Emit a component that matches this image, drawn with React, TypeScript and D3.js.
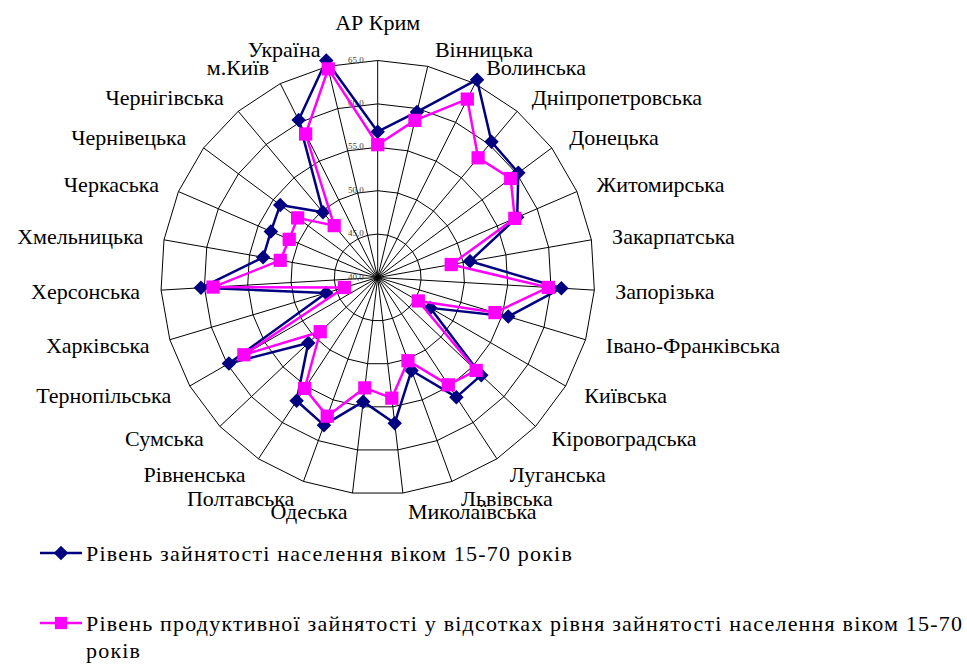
import React, { useRef, useEffect } from 'react';
import * as d3 from 'd3';

const regions = [
  'АР Крим', 'Вінницька', 'Волинська', 'Дніпропетровська', 'Донецька',
  'Житомирська', 'Закарпатська', 'Запорізька', 'Івано-Франківська', 'Київська',
  'Кіровоградська', 'Луганська', 'Львівська', 'Миколаївська', 'Одеська',
  'Полтавська', 'Рівненська', 'Сумська', 'Тернопільська', 'Харківська',
  'Херсонська', 'Хмельницька', 'Черкаська', 'Чернівецька', 'Чернігівська',
  'м.Київ', 'Україна'
];

// рівень зайнятості населення віком 15-70 років
const employment = [
  56.8, 59.6, 65.5, 60.4, 60.2, 57.5, 50.8, 61.2, 55.7, 47.0,
  56.4, 56.5, 51.4, 56.9, 54.4, 58.1, 57.0, 51.0, 59.8, 46.2,
  60.4, 53.4, 53.4, 54.0, 49.8, 60.3, 65.7
];

// рівень продуктивної зайнятості
const productive = [
  55.3, 58.6, 63.0, 58.0, 59.1, 57.2, 48.6, 59.7, 54.1, 45.4,
  55.6, 54.8, 50.2, 54.0, 52.8, 57.0, 55.3, 49.1, 57.8, 44.0,
  59.0, 51.4, 51.1, 51.5, 47.8, 58.5, 64.7
];

const ticks = [40, 45, 50, 55, 60, 65];
const tickLabels = ['40,0', '45,0', '50,0', '55,0', '60,0', '65,0'];

const seriesNames = [
  'Рівень зайнятості населення віком 15-70 років',
  'Рівень продуктивної зайнятості у відсотках рівня зайнятості населення віком 15-70',
  'років'
];

const FONT = 'Liberation Serif, Times New Roman, DejaVu Serif, serif';

function drawRadar(ref) {
  const cx = 377.7, cy = 277.5, R = 217;
  const n = regions.length;

  d3.select(ref.current).selectAll('*').remove();

  const svg = d3.select(ref.current)
    .append('svg')
    .attr('width', 967)
    .attr('height', 664)
    .attr('font-family', FONT)
    .style('position', 'absolute')
    .style('left', 0)
    .style('top', 0)
    .style('background', '#fff');

  const g = svg.append('g').attr('transform', `translate(${cx},${cy})`);

  const angle = d3.scaleLinear().domain([0, n]).range([0, 2 * Math.PI]);
  const r = d3.scaleLinear().domain([40, 65]).range([0, R]);

  // сітка - многокутники
  const ring = d3.lineRadial()
    .angle((d, i) => angle(i))
    .radius(d => r(d))
    .curve(d3.curveLinearClosed);

  g.selectAll('path.ring')
    .data(ticks.slice(1))
    .join('path')
    .attr('class', 'ring')
    .attr('d', t => ring(regions.map(() => t)))
    .attr('fill', 'none')
    .attr('stroke', '#000')
    .attr('stroke-width', 1);

  // осі
  g.selectAll('line.spoke')
    .data(regions)
    .join('line')
    .attr('class', 'spoke')
    .attr('x1', 0)
    .attr('y1', 0)
    .attr('x2', (d, i) => d3.pointRadial(angle(i), r(65))[0])
    .attr('y2', (d, i) => d3.pointRadial(angle(i), r(65))[1])
    .attr('stroke', '#000')
    .attr('stroke-width', 1);

  // підписи шкали
  g.selectAll('text.tick')
    .data(ticks)
    .join('text')
    .attr('class', 'tick')
    .attr('x', -14)
    .attr('y', t => -r(t) - 1)
    .attr('dy', '0.35em')
    .attr('text-anchor', 'end')
    .attr('font-size', 9)
    .attr('fill', '#444')
    .text((t, i) => tickLabels[i]);

  // назви регіонів
  g.selectAll('text.cat')
    .data(regions)
    .join('text')
    .attr('class', 'cat')
    .each(function (d, i) {
      const a = angle(i);
      const s = Math.sin(a);
      const [x, y] = d3.pointRadial(a, 235);
      const t = d3.select(this);
      if (Math.abs(s) < 0.05) {
        t.attr('x', x).attr('y', y - 13).attr('text-anchor', 'middle');
      } else {
        t.attr('x', x + (s > 0 ? 3 : -3))
          .attr('y', y)
          .attr('dy', '0.35em')
          .attr('text-anchor', s > 0 ? 'start' : 'end');
      }
    })
    .attr('font-size', 22)
    .attr('fill', '#000')
    .text(d => d);

  const line = d3.lineRadial()
    .angle((d, i) => angle(i))
    .radius(d => r(d))
    .curve(d3.curveLinearClosed);

  const series = [
    { values: employment, color: '#000080', size: 105, rotate: 45 },
    { values: productive, color: '#FF00FF', size: 175, rotate: 0 }
  ];

  series.forEach(s => {
    g.append('path')
      .attr('d', line(s.values))
      .attr('fill', 'none')
      .attr('stroke', s.color)
      .attr('stroke-width', 2.5)
      .attr('stroke-linejoin', 'round');

    g.selectAll(null)
      .data(s.values)
      .join('path')
      .attr('d', d3.symbol().type(d3.symbolSquare).size(s.size))
      .attr('transform', (d, i) => {
        const [x, y] = d3.pointRadial(angle(i), r(d));
        return `translate(${x},${y}) rotate(${s.rotate})`;
      })
      .attr('fill', s.color);
  });

  // легенда
  const legend = svg.append('g');
  const items = [
    { color: '#000080', size: 105, rotate: 45, y: 553, lines: [seriesNames[0]] },
    { color: '#FF00FF', size: 150, rotate: 0, y: 623, lines: [seriesNames[1], seriesNames[2]] }
  ];

  items.forEach(it => {
    legend.append('line')
      .attr('x1', 40).attr('x2', 82)
      .attr('y1', it.y).attr('y2', it.y)
      .attr('stroke', it.color)
      .attr('stroke-width', 2.5);
    legend.append('path')
      .attr('d', d3.symbol().type(d3.symbolSquare).size(it.size))
      .attr('transform', `translate(61,${it.y}) rotate(${it.rotate})`)
      .attr('fill', it.color);
    it.lines.forEach((txt, k) => {
      legend.append('text')
        .attr('x', 86)
        .attr('y', it.y + k * 27)
        .attr('dy', '0.35em')
        .attr('font-size', 22)
        .attr('letter-spacing', 1.2)
        .attr('fill', '#000')
        .text(txt);
    });
  });
}

export default function App() {
  const chart = useRef(null);

  useEffect(() => {
    drawRadar(chart);
  }, []);

  return <div ref={chart}></div>;
}
